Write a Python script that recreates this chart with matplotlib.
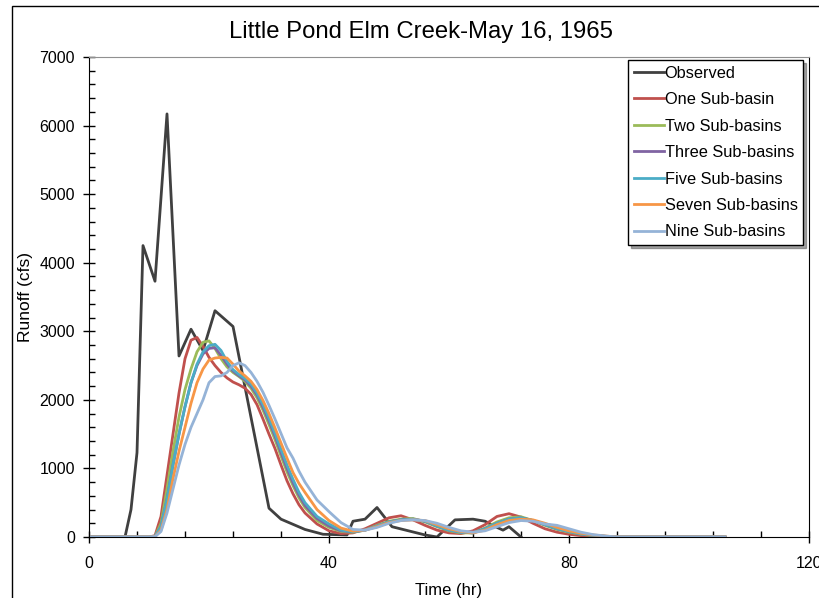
import numpy as np
import matplotlib.pyplot as plt
from matplotlib.patches import Rectangle
from matplotlib.ticker import MultipleLocator

plt.rcParams['font.family'] = ['Liberation Sans', 'DejaVu Sans']

# gozlenen akim (hr, cfs)
obs_t = [0, 6, 7, 8, 9, 11, 13, 15, 17, 19, 21, 24, 30, 32, 36, 39, 43, 44, 46, 48,
         50.5, 56, 58, 61, 64, 66, 68, 69, 70, 72]
obs_q = [0, 0, 400, 1230, 4250, 3730, 6170, 2640, 3030, 2720, 3300, 3070, 420, 260, 110, 40, 30, 230, 260, 430,
         150, 30, 0, 250, 260, 230, 140, 100, 150, 0]

# model sonuclari icin ortak zaman ekseni
sim_t = ([0, 10] + list(range(11, 37)) + list(range(38, 90, 2)) + [106])

one_q = [0, 0,
         20, 300, 900, 1500, 2100, 2600, 2870, 2910, 2780, 2620, 2500, 2400, 2320, 2260, 2220, 2170, 2080,
         1930, 1720, 1500, 1290, 1050, 820, 630, 470, 350,
         190, 90, 50, 60, 120, 200, 280, 310, 250, 170, 100, 60, 50, 90, 180, 300, 340, 290, 200, 120,
         70, 40, 20, 10, 5, 0,
         0]
two_q = [0, 0,
         10, 200, 700, 1250, 1750, 2150, 2450, 2700, 2840, 2860, 2750, 2600, 2480, 2400, 2340, 2270, 2170,
         2030, 1850, 1640, 1420, 1180, 950, 750, 570, 430,
         240, 140, 80, 70, 100, 170, 230, 260, 270, 220, 150, 90, 60, 60, 130, 220, 280, 295, 240, 170,
         110, 70, 40, 20, 10, 0,
         0]
three_q = [0, 0,
           10, 150, 550, 1050, 1500, 1900, 2250, 2500, 2670, 2750, 2760, 2650, 2520, 2420, 2350, 2290, 2200,
           2070, 1890, 1690, 1470, 1230, 1000, 790, 610, 460,
           270, 160, 90, 75, 100, 160, 220, 250, 260, 230, 160, 100, 70, 60, 120, 200, 260, 280, 240, 180,
           120, 80, 45, 25, 10, 0,
           0]
five_q = [0, 0,
          10, 150, 550, 1050, 1500, 1900, 2250, 2520, 2700, 2790, 2810, 2720, 2560, 2440, 2370, 2310, 2230,
          2100, 1930, 1730, 1510, 1280, 1050, 840, 650, 500,
          300, 190, 100, 75, 100, 160, 220, 250, 260, 230, 160, 100, 70, 60, 120, 200, 260, 280, 240, 180,
          120, 80, 45, 25, 10, 0,
          0]
seven_q = [0, 0,
           5, 100, 400, 850, 1250, 1600, 1950, 2250, 2450, 2580, 2610, 2620, 2610, 2520, 2420, 2350, 2270,
           2150, 1990, 1800, 1590, 1370, 1150, 940, 780, 650,
           400, 240, 130, 85, 100, 150, 210, 240, 250, 240, 180, 120, 80, 60, 100, 180, 240, 260, 250, 200,
           140, 90, 55, 30, 15, 0,
           0]
nine_q = [0, 0,
          5, 80, 350, 700, 1050, 1350, 1600, 1800, 2000, 2250, 2340, 2350, 2400, 2500, 2540, 2500, 2400,
          2270, 2110, 1920, 1720, 1510, 1300, 1150, 960, 800,
          540, 370, 210, 110, 100, 140, 200, 240, 250, 240, 200, 140, 90, 70, 90, 150, 210, 240, 230, 190,
          170, 120, 70, 35, 15, 0,
          0]

labels = ['Observed', 'One Sub-basin', 'Two Sub-basins', 'Three Sub-basins',
          'Five Sub-basins', 'Seven Sub-basins', 'Nine Sub-basins']
colors = ['#404040', '#C0504D', '#9BBB59', '#8064A2', '#4BACC6', '#F79646', '#95B3D7']
sims = [one_q, two_q, three_q, five_q, seven_q, nine_q]

fig = plt.figure(figsize=(8.2, 5.98), dpi=100)
ax = fig.add_axes([89 / 820, 61 / 598, 720 / 820, 480 / 598])

ax.plot(obs_t, obs_q, color=colors[0], lw=2, label=labels[0])
for q, c, lab in zip(sims, colors[1:], labels[1:]):
    ax.plot(sim_t, q, color=c, lw=2, label=lab)

ax.set_xlim(0, 120)
ax.set_ylim(0, 7000)
ax.xaxis.set_major_locator(MultipleLocator(40))
ax.xaxis.set_minor_locator(MultipleLocator(8))
ax.yaxis.set_major_locator(MultipleLocator(1000))
ax.yaxis.set_minor_locator(MultipleLocator(200))
ax.tick_params(which='major', direction='inout', length=8, width=1, labelsize=11.5, pad=6)
ax.tick_params(which='minor', direction='in', length=4, width=1)
ax.tick_params(axis='x', pad=10)
ax.spines['top'].set_color('#909090')
for s in ['left', 'bottom', 'right']:
    ax.spines[s].set_color('black')

ax.set_xlabel('Time (hr)', fontsize=12, labelpad=8)
ax.set_ylabel('Runoff (cfs)', fontsize=12.5, labelpad=5)

leg = ax.legend(loc='upper right', bbox_to_anchor=(0.992, 0.994), borderaxespad=0,
                fontsize=11.8, handlelength=1.8, handletextpad=0.05, labelspacing=0.7,
                fancybox=False, shadow=True, framealpha=1, borderpad=0.35)
leg.get_frame().set_edgecolor('black')
leg.get_frame().set_linewidth(1)

fig.text(421 / 820, 1 - 32 / 598, 'Little Pond Elm Creek-May 16, 1965',
         ha='center', va='center', fontsize=17.2)

# dis cerceve
fig.patches.append(Rectangle((12 / 820, -0.1), 2, 1.1 - 6 / 598, transform=fig.transFigure,
                             fill=False, edgecolor='black', lw=1))

fig.savefig('out.png', dpi=100)
